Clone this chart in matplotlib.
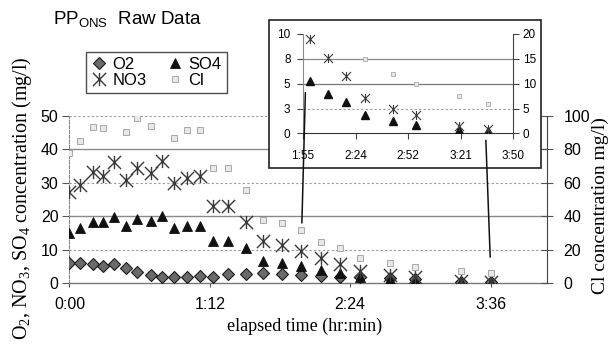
import numpy as np
import matplotlib
matplotlib.use("Agg")
import matplotlib.pyplot as plt
from matplotlib.path import Path
from matplotlib.patches import Rectangle, ConnectionPatch
from matplotlib.lines import Line2D

plt.rcParams['font.family'] = ['Liberation Sans', 'DejaVu Sans']
plt.rcParams['mathtext.fontset'] = 'custom'
plt.rcParams['mathtext.rm'] = 'Liberation Sans'

# ---------------- data (elapsed minutes) ----------------
time_min = [0, 5.4, 12.2, 17.0, 22.8, 29.0, 34.4, 41.6, 47.3, 53.6, 60.1, 66.9, 73.7,
            81.4, 90.5, 99.3, 109.2, 119.0, 128.8, 138.7, 149.0, 164.6, 177.1, 201.0, 216.4]
o2 = [6.0, 6.0, 5.7, 5.2, 5.7, 4.5, 3.3, 2.5, 2.0, 1.8, 2.0, 2.2, 2.0,
      2.8, 2.8, 3.0, 2.8, 2.6, 2.2, 2.0, 2.0, 1.5, 1.2, 0.5, 0.4]
so4 = [14.9, 16.6, 18.4, 18.2, 19.9, 17.1, 19.2, 18.6, 20.1, 16.6, 17.0, 17.2, 12.6,
       12.6, 10.5, 6.8, 6.1, 5.3, 4.0, 3.2, 1.8, 1.2, 0.85, 0.35, 0.2]
no3 = [27.4, 29.4, 33.1, 32.1, 36.1, 30.9, 34.4, 32.9, 36.4, 29.9, 31.4, 31.9, 23.1,
       23.1, 18.4, 12.5, 11.3, 9.5, 7.6, 5.8, 3.6, 2.5, 1.8, 0.7, 0.4]
cl = [77.7, 85.0, 93.6, 92.6, np.nan, 90.6, 98.5, 94.0, np.nan, 86.7, 91.6, 91.6, 68.7,
      68.7, 55.8, 37.8, 35.8, 31.9, 24.9, 21.0, 15.0, 12.0, 10.0, 7.5, 6.0]

inset_start = 17  # inset shows the points from this index on

main_xticks = [0, 72, 144, 216]
main_xlabels = ['0:00', '1:12', '2:24', '3:36']
inset_xticks = [115.2, 144.0, 172.8, 201.6, 230.4]
inset_xlabels = ['1:55', '2:24', '2:52', '3:21', '3:50']
inset_yticks = [0, 2.5, 5, 7.5, 10]
inset_ylabels = ['0', '3', '5', '8', '10']

# connector lines: (inset x, inset y) -> (main x, main y)
connectors = [((116.5, 4.1), (119.2, 18.0)), ((215.5, -0.7), (215.8, 7.8))]

# ---------------- styles ----------------
star = Path([(-1, -1), (1, 1), (-1, 1), (1, -1), (0, -1), (0, 1)],
            [Path.MOVETO, Path.LINETO, Path.MOVETO, Path.LINETO, Path.MOVETO, Path.LINETO])
sty_o2 = dict(marker='D', ms=5.8, mfc='#6a6a6a', mec='#1a1a1a', mew=0.8, ls='none')
sty_so4 = dict(marker='^', ms=7.8, mfc='#111111', mec='#111111', mew=0.6, ls='none')
sty_no3 = dict(marker=star, ms=9.5, mfc='none', mec='#3a3a3a', mew=1.0, ls='none')
sty_cl = dict(marker='s', ms=4.5, mfc='#e8e8e8', mec='#a8a8a8', mew=0.7, ls='none')

fig = plt.figure(figsize=(6.15, 3.5), dpi=100)

# ---------------- main axes ----------------
ax = fig.add_axes([0.113, 0.1906, 0.776, 0.4784])
ax.set_xlim(0, 244.8)
ax.set_ylim(0, 50)
for v in [10, 30, 50]:
    ax.axhline(v, color='#9a9a9a', lw=0.8, ls=(0, (2, 2)), zorder=0.5)
for v in [20, 40]:
    ax.axhline(v, color='#8a8a8a', lw=1.0, zorder=0.5)
ax.plot(time_min, o2, **sty_o2, zorder=3)
ax.plot(time_min, so4, **sty_so4, zorder=3)
ax.plot(time_min, no3, **sty_no3, zorder=3)
ax.set_yticks(range(0, 51, 10))
ax.set_xticks(main_xticks)
ax.set_xticklabels(main_xlabels)
ax.tick_params(axis='y', direction='out', length=5, width=0.8, labelsize=11.5, pad=3, color='#555')
ax.tick_params(axis='x', direction='out', length=3, width=0.8, labelsize=11.5, pad=7, color='#555')
ax.spines['top'].set_visible(False)
ax.spines['right'].set_visible(False)
ax.spines['left'].set_color('#888')
ax.spines['left'].set_linestyle((0, (3, 1.5)))
ax.spines['bottom'].set_color('#777')
ax.spines['bottom'].set_linewidth(1.0)

ax2 = ax.twinx()
ax2.set_ylim(0, 100)
ax2.set_yticks(range(0, 101, 20))
ax2.plot(time_min, cl, **sty_cl, zorder=2)
ax2.tick_params(axis='y', direction='inout', length=8, width=0.8, labelsize=11.5, pad=8, color='#555')
for s in ['top', 'left', 'bottom']:
    ax2.spines[s].set_visible(False)
ax2.spines['right'].set_color('#444')
ax2.set_zorder(0)

# ---------------- inset ----------------
rect = Rectangle((0.4374, 0.52), 0.4423, 0.423, transform=fig.transFigure,
                 facecolor='white', edgecolor='#222', lw=1.2, zorder=2)
fig.add_artist(rect)

inax = fig.add_axes([0.4927, 0.619, 0.3415, 0.284])
inax.set_zorder(3)
inax.set_xlim(115.2, 230.4)
inax.set_ylim(0, 10)
inax.axhline(2.5, color='#9a9a9a', lw=0.8, ls=(0, (2, 2)), zorder=0.5)
inax.axhline(5, color='#777', lw=0.9, zorder=0.5)
inax.axhline(7.5, color='#8a8a8a', lw=0.9, zorder=0.5)
t_in = time_min[inset_start:]
inax.plot(t_in, so4[inset_start:], marker='^', ms=5.5, mfc='#111', mec='#111', ls='none', zorder=3)
inax.plot(t_in, no3[inset_start:], marker=star, ms=6.5, mfc='none', mec='#3a3a3a', mew=0.8, ls='none', zorder=3)
inax.set_xticks(inset_xticks)
inax.set_xticklabels(inset_xlabels)
inax.set_yticks(inset_yticks)
inax.set_yticklabels(inset_ylabels)
inax.tick_params(axis='both', direction='out', length=4, width=0.8, labelsize=8.5, color='#444')
inax.tick_params(axis='x', pad=8)
inax.tick_params(axis='y', pad=5)
inax.spines['top'].set_visible(False)
inax.spines['right'].set_visible(False)
inax.spines['left'].set_color('#888')
inax.spines['bottom'].set_color('#333')

inax2 = inax.twinx()
inax2.set_zorder(3.1)
inax2.set_ylim(0, 20)
inax2.set_yticks(range(0, 21, 5))
inax2.plot(t_in, cl[inset_start:], marker='s', ms=3, mfc='#e8e8e8', mec='#a8a8a8', mew=0.6, ls='none')
inax2.tick_params(axis='y', direction='out', length=4, width=0.8, labelsize=8.5, pad=3, color='#444')
for s in ['top', 'left', 'bottom']:
    inax2.spines[s].set_visible(False)
inax2.spines['right'].set_color('#444')

for (pa, pb) in connectors:
    con = ConnectionPatch(xyA=pa, coordsA=inax.transData, xyB=pb, coordsB=ax.transData,
                          color='#111', lw=1.1, zorder=5)
    fig.add_artist(con)

# ---------------- legend ----------------
handles = [Line2D([], [], **sty_o2), Line2D([], [], **sty_no3),
           Line2D([], [], **sty_so4), Line2D([], [], **sty_cl)]
labels = ['O2', 'NO3', 'SO4', 'Cl']
leg = fig.legend(handles, labels, ncol=2, loc='center',
                 bbox_to_anchor=(0.145, 0.729, 0.218, 0.129), bbox_transform=fig.transFigure,
                 frameon=True, fancybox=False, edgecolor='#222', fontsize=12,
                 handlelength=1.0, handletextpad=0.3, columnspacing=1.2,
                 borderpad=0.3, labelspacing=0.05, borderaxespad=0)
leg.get_frame().set_linewidth(1.0)

# ---------------- text ----------------
fig.text(0.208, 0.943, r'PP$_\mathregular{ONS}$  Raw Data', ha='center', va='center',
         fontsize=13.5)
fig.text(0.035, 0.435, r'O$_\mathregular{2}$, NO$_\mathregular{3}$, SO$_\mathregular{4}$ concentration (mg/l)',
         rotation=90, ha='center', va='center', fontsize=14.5, family='Liberation Serif')
fig.text(0.976, 0.414, 'Cl concentration mg/l)', rotation=90, ha='center', va='center',
         fontsize=14, family='Liberation Serif')
fig.text(0.496, 0.069, 'elapsed time (hr:min)', ha='center', va='center',
         fontsize=13, family='Liberation Serif')

fig.savefig('out.png', dpi=100)
